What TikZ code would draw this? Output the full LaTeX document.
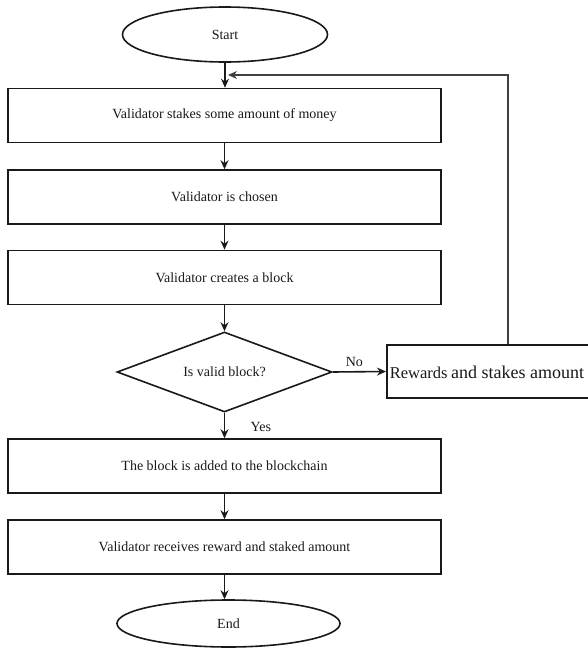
\documentclass[tikz,border=0pt]{standalone}
\usepackage{fontspec}
\setmainfont{Liberation Serif}
\usetikzlibrary{shapes.geometric,arrows.meta}
\begin{document}
\begin{tikzpicture}[x=1pt,y=-1pt,
  line width=1.6pt,
  every node/.style={font=\fontsize{14}{16}\selectfont, text=black!90},
  terminal/.style={draw, ellipse, inner sep=0pt},
  stepbox/.style={draw, rectangle, minimum width=433pt, minimum height=54pt, inner sep=0pt},
  decision/.style={draw, diamond, inner sep=0pt, aspect=2.7},
  tip/.style={-{Stealth[length=9pt,width=8pt]}},
  flow/.style={tip, draw=black!90},
  link/.style={tip, draw=black!75, line width=1.3pt}]
\useasboundingbox (0,0) rectangle (587,648);
\begin{scope}[draw=black!90]
\node[terminal, minimum width=205pt, minimum height=55pt] (start) at (225,34.5) {Start};
\node[stepbox] (s1) at (224.5,115.5) {Validator stakes some amount of money};
\node[stepbox] (s2) at (224.5,197) {Validator is chosen};
\node[stepbox] (s3) at (224.5,277.5) {Validator creates a block};
\node[decision, minimum width=215pt, minimum height=80pt] (dec) at (224.5,372) {Is valid block?};
\node[draw, rectangle, anchor=west, minimum width=215pt, minimum height=53pt, inner sep=0pt] (rew) at (386,371.5) {};
\node[anchor=west, inner sep=0pt] (rewtxt) at (389,372) {{\fontsize{16.5}{18}\selectfont Rewards} {\fontsize{18}{20}\selectfont and stakes amount}};
\node[stepbox] (s4) at (224.5,466) {The block is added to the blockchain};
\node[stepbox] (s5) at (224.5,547) {Validator receives reward and staked amount};
\node[terminal, minimum width=223pt, minimum height=47pt] (end) at (228.5,623.5) {End};
\end{scope}

\coordinate (loopin) at (228,75);
\coordinate (loopcorner) at (508,75);

\draw[flow] (start.south) -- (start.south |- s1.north);
\draw[flow] (s1) -- (s2);
\draw[flow] (s2) -- (s3);
\draw[flow] (s3.south) -- (dec.north);
\draw[flow] (dec.east) -- (rew.west) node[midway, above=1pt, xshift=-5pt] (no) {No};
\draw[flow] (dec.south) -- (s4.north) node[pos=0.55, right=22pt] (yes) {Yes};
\draw[flow] (s4) -- (s5);
\draw[flow] (s5.south) -- (s5.south |- end.north);
\draw[link] (rew.north -| loopcorner) -- (loopcorner) -- (loopin);
\end{tikzpicture}
\end{document}
